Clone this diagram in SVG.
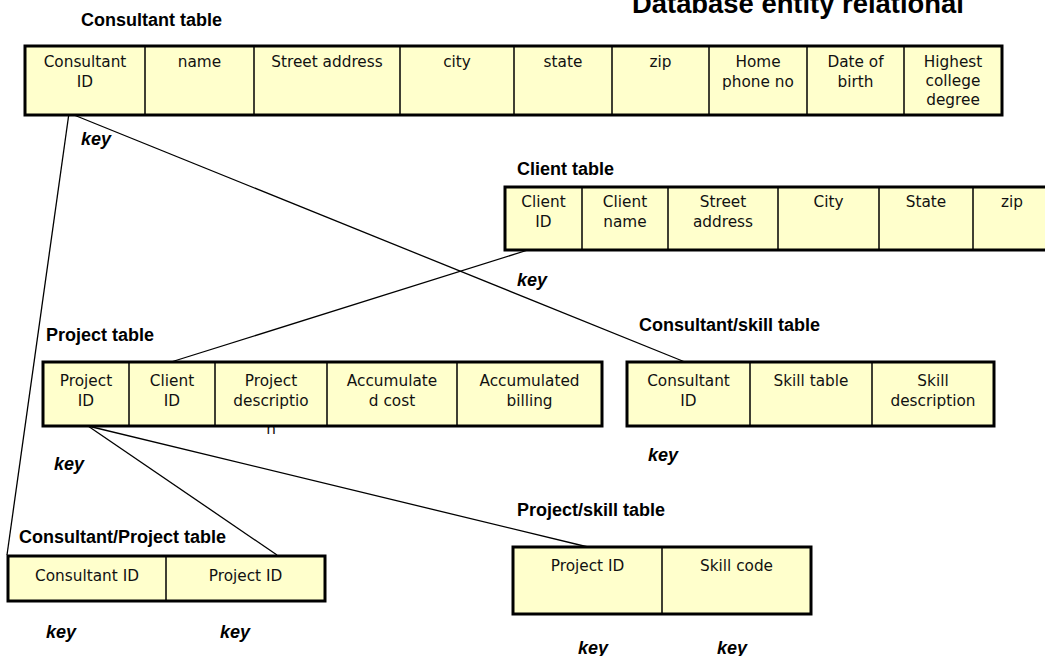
<svg xmlns="http://www.w3.org/2000/svg" width="1045" height="656" viewBox="0 0 1045 656">
<style>
.bg{fill:#ffffff}
.tbl{fill:#ffffcc;stroke:#000;stroke-width:3}
.div{stroke:#000;stroke-width:1.5}
.cell{font-family:"DejaVu Sans",Verdana,sans-serif;font-size:15.3px;fill:#111;text-anchor:middle}
.ttl{font-family:"Liberation Sans",Arial,sans-serif;font-size:18px;font-weight:bold;fill:#000}
.key{font-family:"Liberation Sans",Arial,sans-serif;font-size:18px;font-weight:bold;font-style:italic;fill:#000}
.main{font-family:"Liberation Sans",Arial,sans-serif;font-size:27.4px;font-weight:bold;fill:#000}
.con{stroke:#000;stroke-width:1.3;fill:none}
</style>
<rect class="bg" x="0" y="0" width="1045" height="656"/>
<text class="main" x="632" y="13">Database entity relational</text>

<g id="connectors">
<line class="con" x1="69" y1="113" x2="7" y2="555"/>
<line class="con" x1="69" y1="113" x2="685" y2="362"/>
<line class="con" x1="528" y1="250" x2="171" y2="362"/>
<line class="con" x1="88" y1="426" x2="277" y2="555"/>
<line class="con" x1="88" y1="426" x2="588" y2="547"/>
</g>

<g id="consultant-table">
<text class="ttl" x="81" y="26">Consultant table</text>
<rect class="tbl" x="25" y="46" width="977" height="69"/>
<line class="div" x1="145" y1="46" x2="145" y2="115"/>
<line class="div" x1="254" y1="46" x2="254" y2="115"/>
<line class="div" x1="400" y1="46" x2="400" y2="115"/>
<line class="div" x1="514" y1="46" x2="514" y2="115"/>
<line class="div" x1="612" y1="46" x2="612" y2="115"/>
<line class="div" x1="709" y1="46" x2="709" y2="115"/>
<line class="div" x1="807" y1="46" x2="807" y2="115"/>
<line class="div" x1="904" y1="46" x2="904" y2="115"/>
<text class="cell" x="85" y="67">Consultant<tspan x="85" dy="19.5">ID</tspan></text>
<text class="cell" x="199.5" y="67">name</text>
<text class="cell" x="327" y="67">Street address</text>
<text class="cell" x="457" y="67">city</text>
<text class="cell" x="563" y="67">state</text>
<text class="cell" x="660.5" y="67">zip</text>
<text class="cell" x="758" y="67">Home<tspan x="758" dy="19.5">phone no</tspan></text>
<text class="cell" x="855.5" y="67">Date of<tspan x="855.5" dy="19.5">birth</tspan></text>
<text class="cell" x="953" y="67">Highest<tspan x="953" dy="19">college</tspan><tspan x="953" dy="19">degree</tspan></text>
<text class="key" x="81" y="145">key</text>
</g>

<g id="client-table">
<text class="ttl" x="517" y="175">Client table</text>
<rect class="tbl" x="505" y="187" width="550" height="63"/>
<line class="div" x1="582" y1="187" x2="582" y2="250"/>
<line class="div" x1="668" y1="187" x2="668" y2="250"/>
<line class="div" x1="778" y1="187" x2="778" y2="250"/>
<line class="div" x1="879" y1="187" x2="879" y2="250"/>
<line class="div" x1="973" y1="187" x2="973" y2="250"/>
<text class="cell" x="543.5" y="207">Client<tspan x="543.5" dy="19.5">ID</tspan></text>
<text class="cell" x="625" y="207">Client<tspan x="625" dy="19.5">name</tspan></text>
<text class="cell" x="723" y="207">Street<tspan x="723" dy="19.5">address</tspan></text>
<text class="cell" x="828.5" y="207">City</text>
<text class="cell" x="926" y="207">State</text>
<text class="cell" x="1012" y="207">zip</text>
<text class="key" x="517" y="286">key</text>
</g>

<g id="project-table">
<text class="ttl" x="46" y="341">Project table</text>
<text class="cell" x="271" y="434">n</text>
<rect class="tbl" x="43" y="362" width="559" height="64"/>
<line class="div" x1="129" y1="362" x2="129" y2="426"/>
<line class="div" x1="215" y1="362" x2="215" y2="426"/>
<line class="div" x1="327" y1="362" x2="327" y2="426"/>
<line class="div" x1="457" y1="362" x2="457" y2="426"/>
<text class="cell" x="86" y="386">Project<tspan x="86" dy="20">ID</tspan></text>
<text class="cell" x="172" y="386">Client<tspan x="172" dy="20">ID</tspan></text>
<text class="cell" x="271" y="386">Project<tspan x="271" dy="20">descriptio</tspan></text>
<text class="cell" x="392" y="386">Accumulate<tspan x="392" dy="20">d cost</tspan></text>
<text class="cell" x="529.5" y="386">Accumulated<tspan x="529.5" dy="20">billing</tspan></text>
<text class="key" x="54" y="470">key</text>
</g>

<g id="consultant-skill-table">
<text class="ttl" x="639" y="331">Consultant/skill table</text>
<rect class="tbl" x="627" y="362" width="367" height="64"/>
<line class="div" x1="750" y1="362" x2="750" y2="426"/>
<line class="div" x1="872" y1="362" x2="872" y2="426"/>
<text class="cell" x="688.5" y="386">Consultant<tspan x="688.5" dy="20">ID</tspan></text>
<text class="cell" x="811" y="386">Skill table</text>
<text class="cell" x="933" y="386">Skill<tspan x="933" dy="20">description</tspan></text>
<text class="key" x="648" y="461">key</text>
</g>

<g id="consultant-project-table">
<text class="ttl" x="19" y="543">Consultant/Project table</text>
<rect class="tbl" x="8" y="556" width="317" height="45"/>
<line class="div" x1="166" y1="556" x2="166" y2="601"/>
<text class="cell" x="87" y="581">Consultant ID</text>
<text class="cell" x="245.5" y="581">Project ID</text>
<text class="key" x="46" y="638">key</text>
<text class="key" x="220" y="638">key</text>
</g>

<g id="project-skill-table">
<text class="ttl" x="517" y="516">Project/skill table</text>
<rect class="tbl" x="513" y="547" width="298" height="67"/>
<line class="div" x1="662" y1="547" x2="662" y2="614"/>
<text class="cell" x="587.5" y="571">Project ID</text>
<text class="cell" x="736.5" y="571">Skill code</text>
<text class="key" x="578" y="654">key</text>
<text class="key" x="717" y="654">key</text>
</g>
</svg>
